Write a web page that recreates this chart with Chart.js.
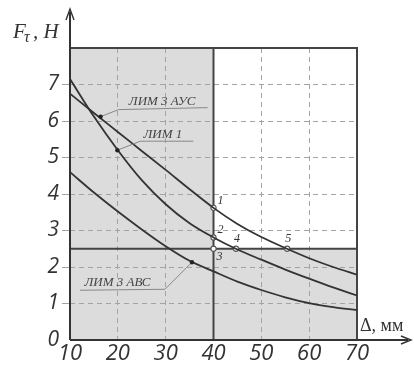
<!DOCTYPE html>
<html>
<head>
<meta charset="utf-8">
<script src="https://cdn.jsdelivr.net/npm/chart.js@4/dist/chart.umd.min.js"></script>
<style>
  html, body { margin: 0; padding: 0; background: #fff; }
  #wrap { width: 414px; height: 367px; }
</style>
</head>
<body>
<div id="wrap"><canvas id="graph"></canvas></div>
<script>
const xs   = [10, 15, 20, 25, 30, 35, 40, 45, 50, 55, 60, 65, 70];
const aus  = [6.75, 6.22, 5.7, 5.18, 4.66, 4.13, 3.62, 3.18, 2.82, 2.52, 2.24, 2.0, 1.79];
const lim1 = [7.15, 6.12, 5.2, 4.38, 3.72, 3.2, 2.81, 2.48, 2.2, 1.93, 1.68, 1.44, 1.22];
const abc  = [4.6, 4.04, 3.52, 3.03, 2.57, 2.17, 1.88, 1.6, 1.37, 1.17, 1.01, 0.9, 0.82];

const ptX = [40, 40, 40, 44.7, 55.4];
const ptY = [3.62, 2.81, 2.5, 2.5, 2.5];
const ptLabels = ['1', '2', '3', '4', '5'];

const curveLabels = ['ЛИМ 3 АУС', 'ЛИМ 1', 'ЛИМ 3 АВС'];
const curveLabelX = [16.4, 19.9, 35.5];
const curveLabelY = [6.12, 5.2, 2.13];

const limitX = 40;
const limitY = 2.5;

const xTicks = [10, 20, 30, 40, 50, 60, 70];
const yTicks = [0, 1, 2, 3, 4, 5, 6, 7];

const toXY = (xv, yv) => xv.map((v, i) => ({x: v, y: yv[i]}));

// leader line shapes for the curve labels: elbow offset, underline end, text shift
const leaders = [
  {elbow: [18, -7], end: [107, -9], shift: -1},
  {elbow: [23, -9], end: [76, -9], shift: -4},
  {elbow: [-27, 27], end: [-112, 28], shift: -5},
];
// offsets of the point numbers
const numOff = [[7, -7], [7, -8], [6, 8], [1, -10], [1, -10]];

const decor = {
  id: 'decor',
  beforeDraw(chart) {
    const {ctx, chartArea: a, scales: {x, y}} = chart;
    const px = x.getPixelForValue(limitX), py = y.getPixelForValue(limitY);
    ctx.save();
    ctx.fillStyle = '#dcdcdc';
    ctx.fillRect(a.left, a.top, a.right - a.left, a.bottom - a.top);
    ctx.fillStyle = '#fff';
    ctx.fillRect(px, a.top, a.right - px, py - a.top);
    ctx.restore();
  },
  beforeDatasetsDraw(chart) {
    const {ctx, chartArea: a, scales: {x, y}} = chart;
    const px = x.getPixelForValue(limitX), py = y.getPixelForValue(limitY);
    ctx.save();
    ctx.strokeStyle = '#444';
    ctx.lineWidth = 2;
    ctx.beginPath();
    ctx.moveTo(a.left, a.top); ctx.lineTo(a.right, a.top); ctx.lineTo(a.right, a.bottom);
    ctx.moveTo(px, a.top); ctx.lineTo(px, a.bottom);
    ctx.moveTo(a.left, py); ctx.lineTo(a.right, py);
    ctx.stroke();
    ctx.restore();
  },
  afterDatasetsDraw(chart) {
    const {ctx, scales: {x, y}} = chart;
    ctx.save();
    // curve labels with leader lines
    ctx.font = 'italic 13px "Liberation Serif"';
    ctx.textBaseline = 'alphabetic';
    curveLabels.forEach((t, i) => {
      const dx = x.getPixelForValue(curveLabelX[i]), dy = y.getPixelForValue(curveLabelY[i]);
      const L = leaders[i];
      const ex = dx + L.elbow[0], ey = dy + L.elbow[1];
      const ux = dx + L.end[0], uy = dy + L.end[1];
      ctx.strokeStyle = '#888';
      ctx.lineWidth = 1;
      ctx.beginPath();
      ctx.moveTo(dx, dy); ctx.lineTo(ex, ey); ctx.lineTo(ux, uy);
      ctx.stroke();
      ctx.fillStyle = '#444';
      ctx.textAlign = 'center';
      ctx.fillText(t, (ex + ux) / 2 + L.shift, Math.min(ey, uy) - 3);
      ctx.fillStyle = '#222';
      ctx.beginPath();
      ctx.arc(dx, dy, 2.2, 0, Math.PI * 2);
      ctx.fill();
    });
    // point numbers
    ctx.fillStyle = '#333';
    ctx.font = 'italic 12px "Liberation Serif"';
    ctx.textAlign = 'center';
    ctx.textBaseline = 'middle';
    ptLabels.forEach((t, i) => {
      const px = x.getPixelForValue(ptX[i]), py = y.getPixelForValue(ptY[i]);
      ctx.fillText(t, px + numOff[i][0], py + numOff[i][1]);
    });
    ctx.restore();
  },
  afterDraw(chart) {
    const {ctx, chartArea: a} = chart;
    ctx.save();
    ctx.strokeStyle = '#333';
    ctx.fillStyle = '#333';
    ctx.lineWidth = 2;
    ctx.beginPath();
    ctx.moveTo(a.left, a.bottom); ctx.lineTo(a.left, 12);
    ctx.moveTo(a.left, a.bottom); ctx.lineTo(408, a.bottom);
    ctx.stroke();
    ctx.lineWidth = 1.4;
    ctx.beginPath();
    ctx.moveTo(a.left - 4, 20); ctx.lineTo(a.left, 9); ctx.lineTo(a.left + 4, 20);
    ctx.moveTo(401, a.bottom - 4); ctx.lineTo(411, a.bottom); ctx.lineTo(401, a.bottom + 4);
    ctx.stroke();
    // axis titles
    ctx.textAlign = 'left';
    ctx.textBaseline = 'alphabetic';
    ctx.font = 'italic 21px "Liberation Serif"';
    ctx.fillText('F', 13, 38);
    ctx.font = 'italic 16px "Liberation Serif"';
    ctx.fillText('τ', 24, 42);
    ctx.font = 'italic 21px "Liberation Serif"';
    ctx.fillText(', H', 33, 38);
    ctx.font = '18px "Liberation Serif"';
    ctx.fillText('Δ, мм', 360, 331);
    ctx.restore();
  }
};

const lineStyle = {
  borderColor: '#333',
  borderWidth: 1.8,
  pointRadius: 0,
  fill: false,
  cubicInterpolationMode: 'monotone',
};

new Chart(document.getElementById('graph'), {
  type: 'line',
  data: {
    datasets: [
      {label: 'ЛИМ 3 АУС', data: toXY(xs, aus), ...lineStyle},
      {label: 'ЛИМ 1', data: toXY(xs, lim1), ...lineStyle},
      {label: 'ЛИМ 3 АВС', data: toXY(xs, abc), ...lineStyle},
      {
        label: 'points',
        data: toXY(ptX, ptY),
        showLine: false,
        pointRadius: 2.6,
        pointBackgroundColor: '#fff',
        pointBorderColor: '#555',
        pointBorderWidth: 1.1,
      },
    ]
  },
  options: {
    responsive: true,
    maintainAspectRatio: false,
    devicePixelRatio: 1,
    animation: false,
    layout: {padding: {top: 48, right: 57, left: 0, bottom: 0}},
    plugins: {legend: {display: false}, tooltip: {enabled: false}},
    scales: {
      x: {
        type: 'linear',
        min: 10, max: 70,
        afterFit: s => { s.height = 27; },
        afterBuildTicks: s => { s.ticks = xTicks.map(v => ({value: v})); },
        grid: {
          color: c => (c.tick && (c.tick.value === 10 || c.tick.value === 70 || c.tick.value === limitX)) ? 'rgba(0,0,0,0)' : '#a3a3a3',
          drawTicks: false,
        },
        border: {display: false, dash: [5, 4]},
        ticks: {
          padding: 1,
          color: '#333',
          font: {family: 'Open Sans', style: 'italic', size: 22},
          maxRotation: 0,
        }
      },
      y: {
        min: 0, max: 8,
        afterFit: s => { s.width = 70; },
        afterBuildTicks: s => { s.ticks = yTicks.map(v => ({value: v})); },
        grid: {
          color: c => (c.tick && c.tick.value === 0) ? 'rgba(0,0,0,0)' : '#a3a3a3',
          tickLength: 8,
        },
        border: {display: false, dash: [5, 4]},
        ticks: {
          padding: 3,
          color: '#333',
          font: {family: 'Open Sans', style: 'italic', size: 21},
        }
      }
    }
  },
  plugins: [decor]
});
</script>
</body>
</html>
